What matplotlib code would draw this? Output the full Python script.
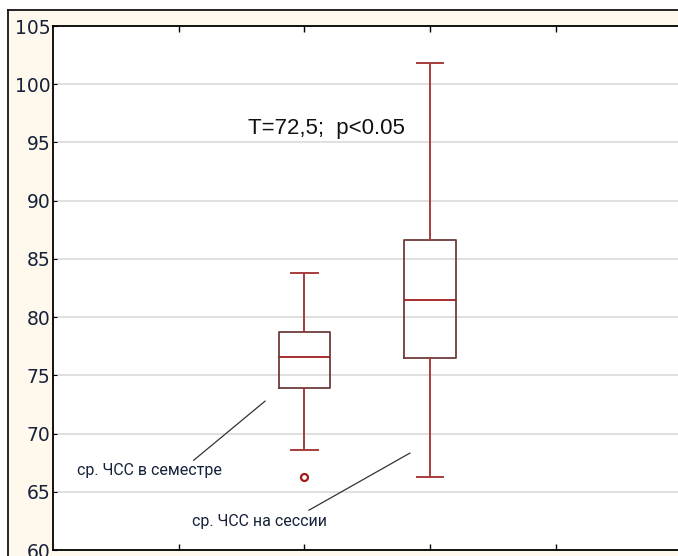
import numpy as np
import matplotlib
matplotlib.use("Agg")
import matplotlib.pyplot as plt
from matplotlib.patches import Rectangle
from matplotlib.lines import Line2D

# box summaries
group_names = ["ср. ЧСС в семестре", "ср. ЧСС на сессии"]
positions = [2, 3]
whislo = [68.55, 66.25]
q1 = [73.93, 76.45]
med = [76.56, 81.46]
q3 = [78.74, 86.64]
whishi = [83.8, 101.8]
fliers = [[66.3], []]

y_ticks = [60, 65, 70, 75, 80, 85, 90, 95, 100, 105]
x_ticks = [1, 2, 3, 4]
stat_text = "T=72,5;  p<0.05"

W, H = 678, 556
fig = plt.figure(figsize=(W / 100, H / 100), dpi=100, facecolor="white")

# cream panel with black frame at top/left
fig.patches.append(Rectangle((8 / W, 0), 1, (H - 10) / H, transform=fig.transFigure,
                             facecolor="#FFF8EC", edgecolor="none", zorder=-2))
fig.lines.append(Line2D([8 / W, 1], [(H - 10) / H] * 2, transform=fig.transFigure,
                        color="black", lw=1.2))
fig.lines.append(Line2D([8 / W] * 2, [0, (H - 10) / H], transform=fig.transFigure,
                        color="black", lw=1.2))

ax = fig.add_axes([53 / W, 6 / H, 628.3 / W, 524 / H])
ax.set_facecolor("white")

stats = []
for i in range(len(positions)):
    stats.append(dict(label=group_names[i], whislo=whislo[i], q1=q1[i], med=med[i],
                      q3=q3[i], whishi=whishi[i], fliers=fliers[i]))

ax.bxp(stats, positions=positions, widths=0.41, capwidths=0.21, showfliers=True,
       boxprops=dict(color="#6E3B3B", lw=1.3),
       medianprops=dict(color="#A01C1C", lw=1.3),
       whiskerprops=dict(color="#A83C3C", lw=1.4),
       capprops=dict(color="#A83C3C", lw=1.4),
       flierprops=dict(marker="o", markersize=5, markerfacecolor="white",
                       markeredgecolor="#A01C1C", markeredgewidth=1.6))

ax.set_xlim(0, 5)
ax.set_ylim(60, 105)
ax.set_yticks(y_ticks)
ax.set_xticks(x_ticks)
ax.set_xticklabels([])
ax.tick_params(axis="x", direction="in", length=4, top=True, bottom=True, width=1)
ax.tick_params(axis="y", direction="in", length=3, labelsize=13.5, labelcolor="#15223A", pad=2)
for lab in ax.get_yticklabels():
    lab.set_family(["DejaVu Sans"])

ax.grid(axis="y", color="#DDDDDD", lw=1.3)
ax.set_axisbelow(True)
for s in ["top", "bottom", "left"]:
    ax.spines[s].set_linewidth(1.3)
ax.spines["right"].set_visible(False)

ax.text(1.55, 96.2, stat_text, fontsize=16, family=["Liberation Sans"],
        va="center", ha="left", color="#111111")

# leader lines and labels
ax.plot([1.12, 1.687], [67.71, 72.78], color="#333333", lw=0.9)
ax.plot([2.037, 2.84], [63.42, 68.32], color="#333333", lw=0.9)
ax.text(0.19, 66.86, group_names[0], fontsize=11.5, family=["Roboto"],
        va="center", ha="left", color="#15223A")
ax.text(1.106, 62.45, group_names[1], fontsize=11.5, family=["Roboto"],
        va="center", ha="left", color="#15223A")

fig.savefig("out.png", dpi=100, facecolor=fig.get_facecolor())
